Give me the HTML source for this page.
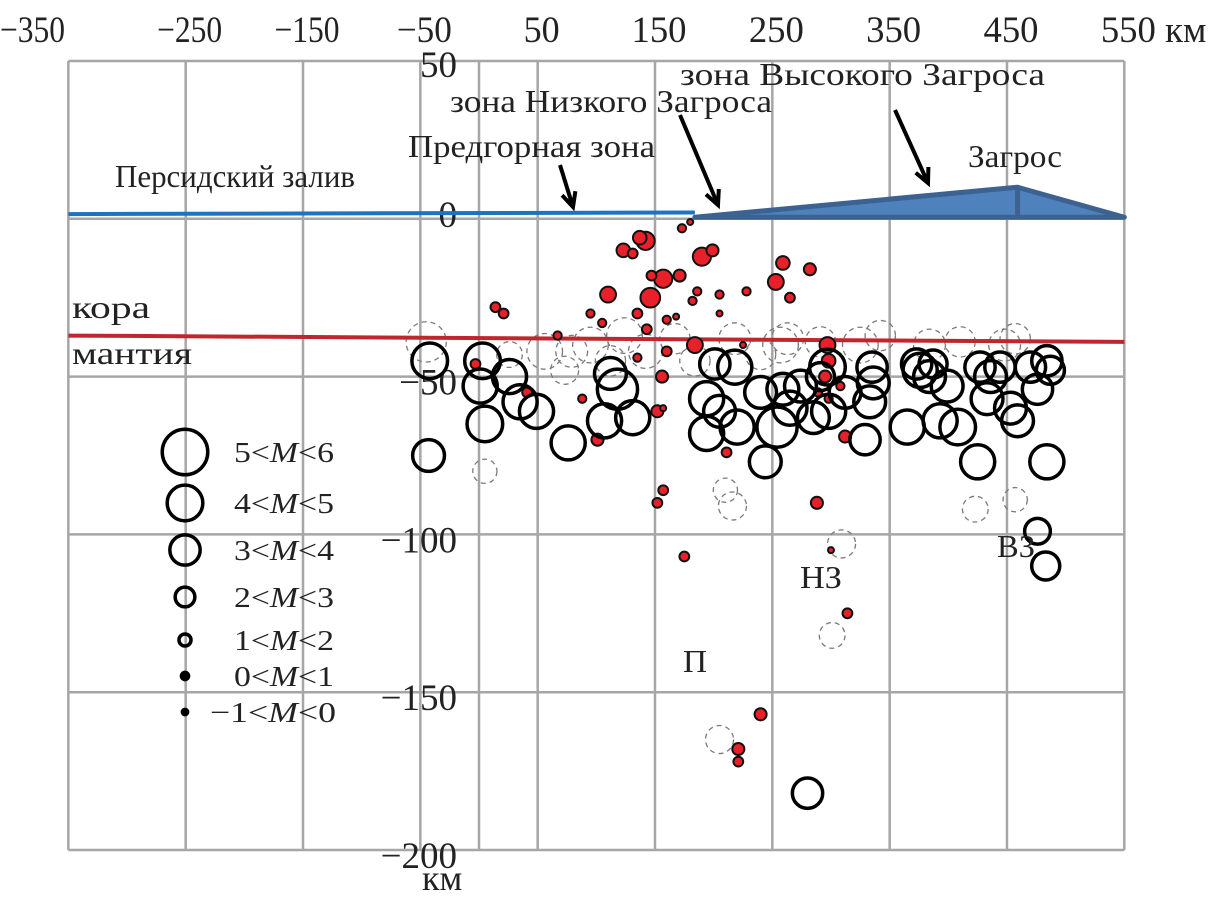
<!DOCTYPE html>
<html><head><meta charset="utf-8"><style>
html,body{margin:0;padding:0;background:#fff}
svg{display:block;font-family:"Liberation Serif",serif}
</style></head><body>
<svg id="chart" width="1216" height="901" viewBox="0 0 1216 901" xmlns="http://www.w3.org/2000/svg">
<g id="grid"></g>
<g id="axes"></g>
<g id="surface"></g>
<g id="dashed"></g>
<g id="moho"></g>
<g id="red"></g>
<g id="black"></g>
<g id="notes"></g>
<g id="legend"></g>
</svg>
<script>
const xTicks = [-350,-250,-150,-50,50,150,250,350,450,550];
const xGrid = [-350,-250,-150,-50,0,50,150,250,350,450,550];
const yTicks = [50,0,-50,-100,-150,-200];
// black events: km, depth, magnitude
const blackKm = [-42,3,1,26,35,49,5,76,-43,112,118,107,131,194,194,201,218,220,254,244,259,274,205,297,298,329,335,336,333,365,373,376,384,387,393,408,399,425,427,436,433,453,459,444,470,484,487,476,484,285,291,476,483,280,240,265,312];
const blackDepth = [-45,-45,-53,-50,-58,-61,-65,-71,-75,-49,-54,-64,-63,-68,-57,-46,-47,-66,-66,-77,-54,-53,-61,-47,-61,-70,-47,-52,-58,-66,-46,-48,-50,-46,-64,-66,-53,-77,-47,-50,-57,-60,-64,-47,-47,-45,-48,-54,-77,-63,-50,-99,-110,-182,-55,-60,-55];
const blackMag = [3.9,3.9,3.7,3.7,3.7,3.7,3.9,3.7,3.4,3.4,4.5,3.7,3.7,3.7,3.7,3.2,3.7,3.7,4.5,3.4,3.4,3.4,3.4,3.9,3.7,3.2,3.2,3.4,3.4,3.7,3.2,3.7,3.4,2.9,3.7,3.9,3.4,3.7,3.2,3.4,3.4,3.4,3.4,3.2,3.2,3.2,2.9,3.2,3.7,3.4,2.9,2.6,2.9,3.2,3.4,3.7,3.4];
// red events
const redKm = [142,137,123,131,173,180,190,199,157,147,171,146,110,135,95,105,186,182,205,205,228,259,282,253,265,160,168,143,67,14,21,184,225,160,135,156,-3,41,88,152,157,101,211,297,298,295,289,298,308,312,288,157,152,175,300,314,240,221,221];
const redDepth = [-7,-6,-10,-11,-3,-1,-12,-10,-19,-18,-18,-25,-24,-30,-30,-33,-23,-26,-24,-30,-23,-14,-16,-20,-25,-32,-31,-35,-37,-28,-30,-40,-40,-42,-44,-50,-46,-55,-57,-61,-60,-70,-74,-40,-45,-50,-55,-57,-53,-69,-90,-86,-90,-107,-105,-125,-157,-168,-172];
const redMag = [1.6,1,1,0.5,0.3,0,1.6,0.8,1.6,0.5,0.8,1.8,1.3,0.5,0.3,0.3,0.3,0.3,0.3,0,0.3,1,0.8,1.3,0.5,0.3,0,0.5,0.3,0.5,0.5,1.3,0,0.5,0.3,0.8,0.5,0.5,0.3,0.8,0,0.8,0.5,1.3,1,0.8,0.3,0.3,0.3,0.8,0.8,0.5,0.5,0.5,0,0.5,0.8,0.8,0.5];
// dashed (other catalogue) events
const dashKm = [-45,56,79,95,124,112,142,167,184,218,240,257,263,291,325,342,384,410,448,457,5,26,210,216,423,457,301,309,205,73];
const dashDepth = [-39,-42,-42,-40,-37,-45,-42,-38,-45,-38,-43,-40,-38,-39,-40,-37,-40,-39,-40,-38,-80,-43,-86,-91,-92,-89,-132,-103,-165,-48];
const dashMag = [4.5,3.9,3.4,3.9,3.9,3.2,3.7,3.2,3.2,3.4,3.2,3.9,3.4,3.2,3.9,3.2,3.4,3.2,3.4,3.2,2.4,2.6,2.4,2.9,2.6,2.4,2.6,2.9,2.9,2.9];
const legendLabels = ["5<M<6","4<M<5","3<M<4","2<M<3","1<M<2","0<M<1","−1<M<0"];
const legendMags = [5.2,3.9,3.2,1.8,0.8,0.15,-0.1];
const topoKm = [184,459,550];
const topoElev = [0.5,10,0.5];

const NS="http://www.w3.org/2000/svg";
const X = km => 479 + km*1.1733;
const Y = d => 218.8 - d*3.156;
const R = m => Math.max(2.5, 3 + 3.8*m);
function mk(tag, attrs, parent){const e=document.createElementNS(NS,tag);for(const k in attrs)e.setAttribute(k,attrs[k]);parent.appendChild(e);return e;}
const G = id => document.getElementById(id);

// grid
xGrid.forEach(v=>{const l=mk('line',{x1:X(v),x2:X(v),y1:Y(50),y2:Y(-200),stroke:'#a6a6a6','stroke-width':2.5},G('grid'));

});
yTicks.forEach(v=>{const l=mk('line',{x1:X(-350),x2:X(550),y1:Y(v),y2:Y(v),stroke:'#a6a6a6','stroke-width':2.5},G('grid'));

});
// axis labels
xTicks.forEach(v=>{const s=(v<0?'−'+(-v):String(v));
const w = s.length>=4?65:(s.length===3?55:36);
const attrs = v===-350 ? {x:0,y:42,'text-anchor':'start'} : {x:X(v)+4,y:42,'text-anchor':'middle'};
attrs['font-size']=37; attrs.fill='#222'; attrs.textLength=w; attrs.lengthAdjust='spacingAndGlyphs';
const t=mk('text',attrs,G('axes'));t.textContent=s;

});
const ku=mk('text',{x:1165,y:42,'font-size':37,fill:'#222'},G('axes'));ku.textContent='км';


yTicks.forEach(v=>{const t=mk('text',{x:457,y:Y(v)+(v>0?16:(v===0?8:18)),'font-size':37,'text-anchor':'end',fill:'#222'},G('axes'));t.textContent=(v<0?'−'+(-v):v);

});
const yu=mk('text',{x:422,y:890,'font-size':36,fill:'#222'},G('axes'));yu.textContent='км';



// surface
const sea=mk('line',{x1:X(-350),y1:Y(1.5),x2:X(184),y2:Y(2),stroke:'#1f72c0','stroke-width':4},G('surface'));


const pts=topoKm.map((k,i)=>X(k)+','+Y(topoElev[i])).join(' ');
const topo=mk('polygon',{points:pts,fill:'#4f81bd',stroke:'#3b6291','stroke-width':5,'stroke-linejoin':'round'},G('surface'));


const pk=mk('line',{x1:X(topoKm[1]),y1:Y(topoElev[1]),x2:X(topoKm[1]),y2:Y(0.5),stroke:'#3b6291','stroke-width':5},G('surface'));



// moho
const mo=mk('line',{x1:X(-350),y1:Y(-37),x2:X(550),y2:Y(-39),stroke:'#c0262d','stroke-width':4},G('moho'));



dashKm.forEach((k,i)=>{const c=mk('circle',{cx:X(k),cy:Y(dashDepth[i]),r:R(dashMag[i]),fill:'none',stroke:'#7a7a7a','stroke-width':1.3,'stroke-dasharray':'5 4'},G('dashed'));

});
redKm.forEach((k,i)=>{const c=mk('circle',{cx:X(k),cy:Y(redDepth[i]),r:R(redMag[i]),fill:'#e8202a',stroke:'#111','stroke-width':2},G('red'));

});
blackKm.forEach((k,i)=>{const c=mk('circle',{cx:X(k),cy:Y(blackDepth[i]),r:R(blackMag[i]),fill:'none',stroke:'#000','stroke-width':3.5},G('black'));

});

// annotations: text, x, baseline y, width
const notes=[["Персидский залив",115,187,240],["Предгорная зона",408,157,247],["зона Низкого Загроса",450,112,322],["зона Высокого Загроса",680,85,365],["Загрос",968,167,94],["кора",72,318,78],["мантия",72,364,120],["П",683,672,24],["НЗ",800,588,42],["ВЗ",997,557,38]];
notes.forEach(n=>{const t=mk('text',{x:n[1],y:n[2],'font-size':32,fill:'#222',textLength:n[3],lengthAdjust:'spacingAndGlyphs'},G('notes'));t.textContent=n[0];

});
const arrows=[[560,165,573,207],[680,115,718,205],[895,110,928,183]];
arrows.forEach(a=>{const g=mk('g',{},G('notes'));


mk('line',{x1:a[0],y1:a[1],x2:a[2],y2:a[3],stroke:'#000','stroke-width':4},g);
const ang=Math.atan2(a[3]-a[1],a[2]-a[0]);const L=16;
const p=[[a[2]-L*Math.cos(ang-0.45),a[3]-L*Math.sin(ang-0.45)],[a[2],a[3]],[a[2]-L*Math.cos(ang+0.45),a[3]-L*Math.sin(ang+0.45)]];
mk('polyline',{points:p.map(q=>q.join(',')).join(' '),fill:'none',stroke:'#000','stroke-width':4},g);});

// legend
const ly=[452,503,550,597,640,676,712];
legendLabels.forEach((lab,i)=>{const g=mk('g',{},G('legend'));


mk('circle',{cx:185,cy:ly[i],r:R(legendMags[i]),fill:i>=5?'#000':'none',stroke:'#000','stroke-width':3.5},g);
const t=mk('text',{x:i==6?210:234,y:ly[i]+10,'font-size':29,fill:'#222',textLength:i==6?126:100,lengthAdjust:'spacingAndGlyphs'},g);
const parts=lab.split('M');t.appendChild(document.createTextNode(parts[0]));
const ts=mk('tspan',{'font-style':'italic'},t);ts.textContent='M';
t.appendChild(document.createTextNode(parts[1]));});
</script>
</body></html>
